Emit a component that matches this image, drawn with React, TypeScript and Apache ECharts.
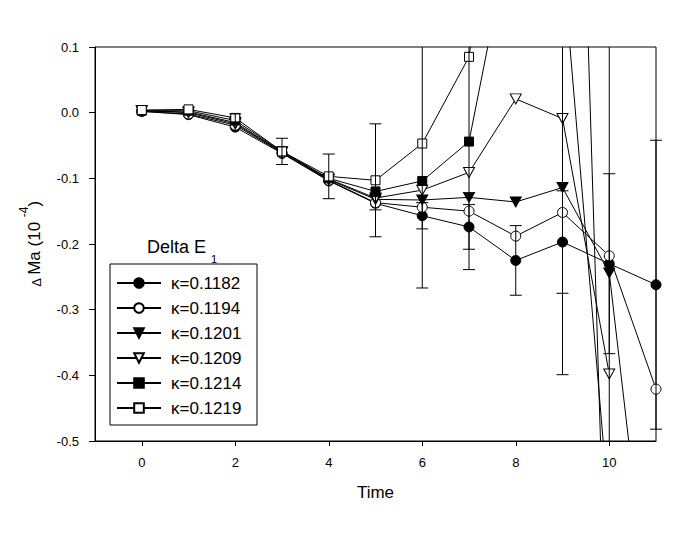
import React, { useEffect, useRef } from "react";
import * as echarts from "echarts";

// ---- data ----
const times = [0, 1, 2, 3, 4, 5, 6, 7, 8, 9, 10, 11];
const xTickValues = [0, 2, 4, 6, 8, 10];

const seriesNames = ["κ=0.1182", "κ=0.1194", "κ=0.1201", "κ=0.1209", "κ=0.1214", "κ=0.1219"];

const k1182 = [0.002, -0.003, -0.022, -0.062, -0.104, -0.138, -0.157, -0.174, -0.225, -0.197, -0.23, -0.262];
const k1194 = [0.002, -0.002, -0.019, -0.061, -0.103, -0.137, -0.144, -0.15, -0.188, -0.152, -0.218, -0.421];
const k1201 = [0.003, 0.0, -0.017, -0.06, -0.102, -0.132, -0.133, -0.129, -0.136, -0.114, -0.244, -0.86];
const k1209 = [0.003, 0.001, -0.015, -0.06, -0.101, -0.13, -0.118, -0.091, 0.021, -0.009, -0.398, null];
const k1214 = [0.003, 0.003, -0.012, -0.059, -0.1, -0.12, -0.104, -0.044, 0.316, 0.235, -0.61, null];
const k1219 = [0.004, 0.005, -0.008, -0.059, -0.097, -0.103, -0.047, 0.085, 0.6, 1.37, -0.93, null];

const e1182 = [null, null, null, null, null, 0.01, 0.02, 0.034, 0.053, 0.078, 0.137, 0.22];
const e1194 = [null, null, null, null, null, null, null, null, null, null, null, null];
const e1201 = [null, null, null, null, null, null, null, null, null, null, null, null];
const e1209 = [null, null, null, null, null, null, null, null, null, 0.39, 0.6, null];
const e1214 = [null, null, null, null, null, null, null, 0.195, null, null, null, null];
const e1219 = [null, null, 0.006, 0.02, 0.034, 0.086, 0.22, null, null, null, null, null];

const FONT = "'Liberation Sans', Arial, Helvetica, sans-serif";

const DOWN_TRI = "path://M0,0L10,0L5,9Z";

const styles = [
  { symbol: "circle", size: 10, fill: "#000" },
  { symbol: "circle", size: 10, fill: "#fff" },
  { symbol: DOWN_TRI, size: [11, 10], fill: "#000" },
  { symbol: DOWN_TRI, size: [11, 10], fill: "#fff" },
  { symbol: "rect", size: 9, fill: "#000" },
  { symbol: "rect", size: 9, fill: "#fff" },
];

const values = [k1182, k1194, k1201, k1209, k1214, k1219];
const errors = [e1182, e1194, e1201, e1209, e1214, e1219];

export default function App() {
  const ref = useRef<HTMLDivElement>(null);

  useEffect(() => {
    if (!ref.current) return;
    const chart = echarts.init(ref.current, undefined, { renderer: "svg" });

    const lineSeries = values.map((vals, si) => ({
      name: seriesNames[si],
      type: "line",
      data: times.map((t, i) => [t, vals[i]]),
      symbol: styles[si].symbol,
      symbolSize: styles[si].size,
      showAllSymbol: true,
      connectNulls: false,
      clip: true,
      lineStyle: { color: "#000", width: 1 },
      itemStyle: { color: styles[si].fill, borderColor: "#000", borderWidth: 1 },
      emphasis: { disabled: true },
      z: 2,
    }));

    const errData: number[][] = [];
    errors.forEach((errs, si) => {
      errs.forEach((e, i) => {
        if (e !== null && values[si][i] !== null) {
          errData.push([times[i], values[si][i] as number, e]);
        }
      });
    });

    const errSeries = {
      type: "custom",
      data: errData,
      clip: false,
      z: 3,
      silent: true,
      renderItem: (params: any, api: any) => {
        const x = api.value(0);
        const y = api.value(1);
        const e = api.value(2);
        const top = api.coord([x, y + e]);
        const bot = api.coord([x, y - e]);
        const cs = params.coordSys;
        const yMin = cs.y;
        const yMax = cs.y + cs.height;
        const st = { stroke: "#000", lineWidth: 1 };
        const hw = 6;
        const y1 = Math.max(top[1], yMin);
        const y2 = Math.min(bot[1], yMax);
        const children: any[] = [];
        if (y2 > y1) {
          children.push({ type: "line", shape: { x1: top[0], y1, x2: top[0], y2 }, style: st });
        }
        if (top[1] >= yMin && top[1] <= yMax) {
          children.push({ type: "line", shape: { x1: top[0] - hw, y1: top[1], x2: top[0] + hw, y2: top[1] }, style: st });
        }
        if (bot[1] >= yMin && bot[1] <= yMax) {
          children.push({ type: "line", shape: { x1: bot[0] - hw, y1: bot[1], x2: bot[0] + hw, y2: bot[1] }, style: st });
        }
        return { type: "group", children };
      },
    };

    const option: any = {
      animation: false,
      backgroundColor: "#fff",
      textStyle: { fontFamily: FONT, color: "#000" },
      grid: {
        left: 95,
        right: 36,
        top: 47,
        bottom: 95,
        show: true,
        borderColor: "#000",
        borderWidth: 1,
        backgroundColor: "transparent",
      },
      xAxis: {
        type: "value",
        min: -1,
        max: 11,
        name: "Time",
        nameLocation: "middle",
        nameGap: 43,
        nameTextStyle: { fontSize: 17, fontFamily: FONT, color: "#000" },
        axisLine: { show: true, onZero: false, lineStyle: { color: "#000", width: 1 } },
        axisTick: { show: true, inside: false, length: 5, lineStyle: { color: "#000" }, customValues: xTickValues },
        axisLabel: { fontSize: 13, fontFamily: FONT, color: "#000", margin: 15, customValues: xTickValues },
        splitLine: { show: false },
      },
      yAxis: {
        type: "value",
        min: -0.5,
        max: 0.1,
        interval: 0.1,
        name: "{d|Δ }{m|Ma (10 }{s|-4}{m|)}",
        nameLocation: "middle",
        nameRotate: 90,
        nameGap: 52,
        nameTextStyle: {
          fontFamily: FONT,
          color: "#000",
          rich: {
            d: { fontSize: 13, fontFamily: FONT, lineHeight: 25, verticalAlign: "bottom" },
            m: { fontSize: 17, fontFamily: FONT, lineHeight: 25, verticalAlign: "bottom" },
            s: { fontSize: 12, fontFamily: FONT, lineHeight: 25, verticalAlign: "top" },
          },
        },
        axisLine: { show: true, onZero: false, lineStyle: { color: "#000", width: 1 } },
        axisTick: { show: true, inside: false, length: 6, lineStyle: { color: "#000" } },
        axisLabel: {
          fontSize: 13,
          fontFamily: FONT,
          color: "#000",
          margin: 16,
          formatter: (v: number) => v.toFixed(1),
        },
        splitLine: { show: false },
      },
      legend: {
        show: true,
        orient: "vertical",
        left: 116,
        top: 274,
        padding: 0,
        itemWidth: 44,
        itemHeight: 12,
        itemGap: 7,
        selectedMode: false,
        data: seriesNames,
        textStyle: { fontSize: 17, fontFamily: FONT, color: "#000", padding: [0, 0, 0, 5], lineHeight: 18 },
      },
      graphic: [
        {
          type: "rect",
          shape: { x: 110, y: 264, width: 147, height: 161 },
          style: { fill: "none", stroke: "#000", lineWidth: 1 },
          z: 1,
        },
        {
          type: "text",
          x: 147,
          y: 238,
          style: {
            text: "{a|Delta E }{b|1}",
            fontFamily: FONT,
            rich: {
              a: { fontSize: 18, fontFamily: FONT, lineHeight: 26, verticalAlign: "top", fill: "#000" },
              b: { fontSize: 11, fontFamily: FONT, lineHeight: 26, verticalAlign: "bottom", fill: "#000" },
            },
          },
        },
      ],
      series: [...lineSeries, errSeries],
    };

    chart.setOption(option);
    return () => chart.dispose();
  }, []);

  return (
    <div
      ref={ref}
      style={{ position: "absolute", left: 0, top: 0, width: 692, height: 536 }}
    />
  );
}
